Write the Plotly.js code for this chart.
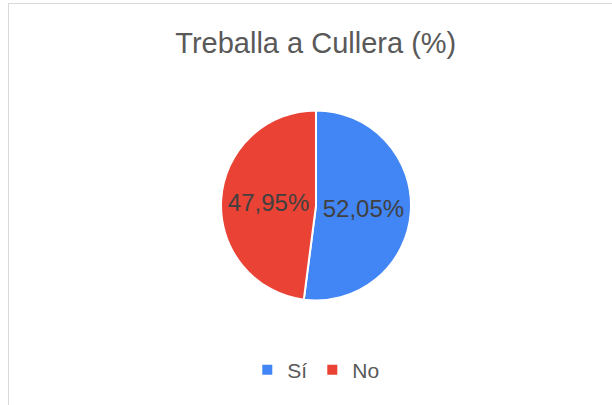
<!DOCTYPE html>
<html>
<head>
<meta charset="utf-8">
<script src="https://cdn.plot.ly/plotly-3.0.1.min.js"></script>
<style>
  html, body { margin: 0; padding: 0; background: #ffffff; overflow: hidden; }
  #wrap { position: relative; width: 612px; height: 405px; }
  #chart { position: absolute; left: 0; top: 0; width: 612px; height: 405px; }
  #frame { position: absolute; left: 8px; top: 3px; width: 700px; height: 500px;
           border: 1px solid #d9d9d9; pointer-events: none; }
</style>
</head>
<body>
<div id="wrap">
  <div id="chart"></div>
  <div id="frame"></div>
</div>
<script>
const chartTitle = "Treballa a Cullera (%)";
const categories = ["Sí", "No"];
const values = [52.05, 47.95];
const colors = ["#4285F4", "#EA4335"];

const trace = {
  type: "pie",
  labels: categories,
  values: values,
  sort: false,
  direction: "clockwise",
  rotation: 0,
  marker: { colors: colors, line: { color: "#ffffff", width: 2 } },
  texttemplate: "%{percent:.2%}",
  textposition: "inside",
  insidetextorientation: "horizontal",
  insidetextfont: { family: "Liberation Sans, Arial, sans-serif", size: 24, color: "#404040" },
  hoverinfo: "none",
  domain: { x: [221 / 612, 411 / 612], y: [104 / 405, 295 / 405] }
};

const layout = {
  width: 612,
  height: 405,
  margin: { l: 0, r: 0, t: 0, b: 0 },
  paper_bgcolor: "#ffffff",
  separators: ",.",
  font: { family: "Liberation Sans, Arial, sans-serif", color: "#595959" },
  title: {
    text: chartTitle,
    font: { size: 29, color: "#595959" },
    x: 0.516, xanchor: "center",
    y: 1 - 43 / 405, yanchor: "middle"
  },
  showlegend: true,
  legend: {
    orientation: "h",
    x: 0.516, xanchor: "center",
    y: 1 - 370 / 405, yanchor: "middle",
    font: { size: 21, color: "#595959" },
    itemwidth: 30
  }
};

Plotly.newPlot("chart", [trace], layout, { staticPlot: true, displayModeBar: false });
</script>
</body>
</html>
